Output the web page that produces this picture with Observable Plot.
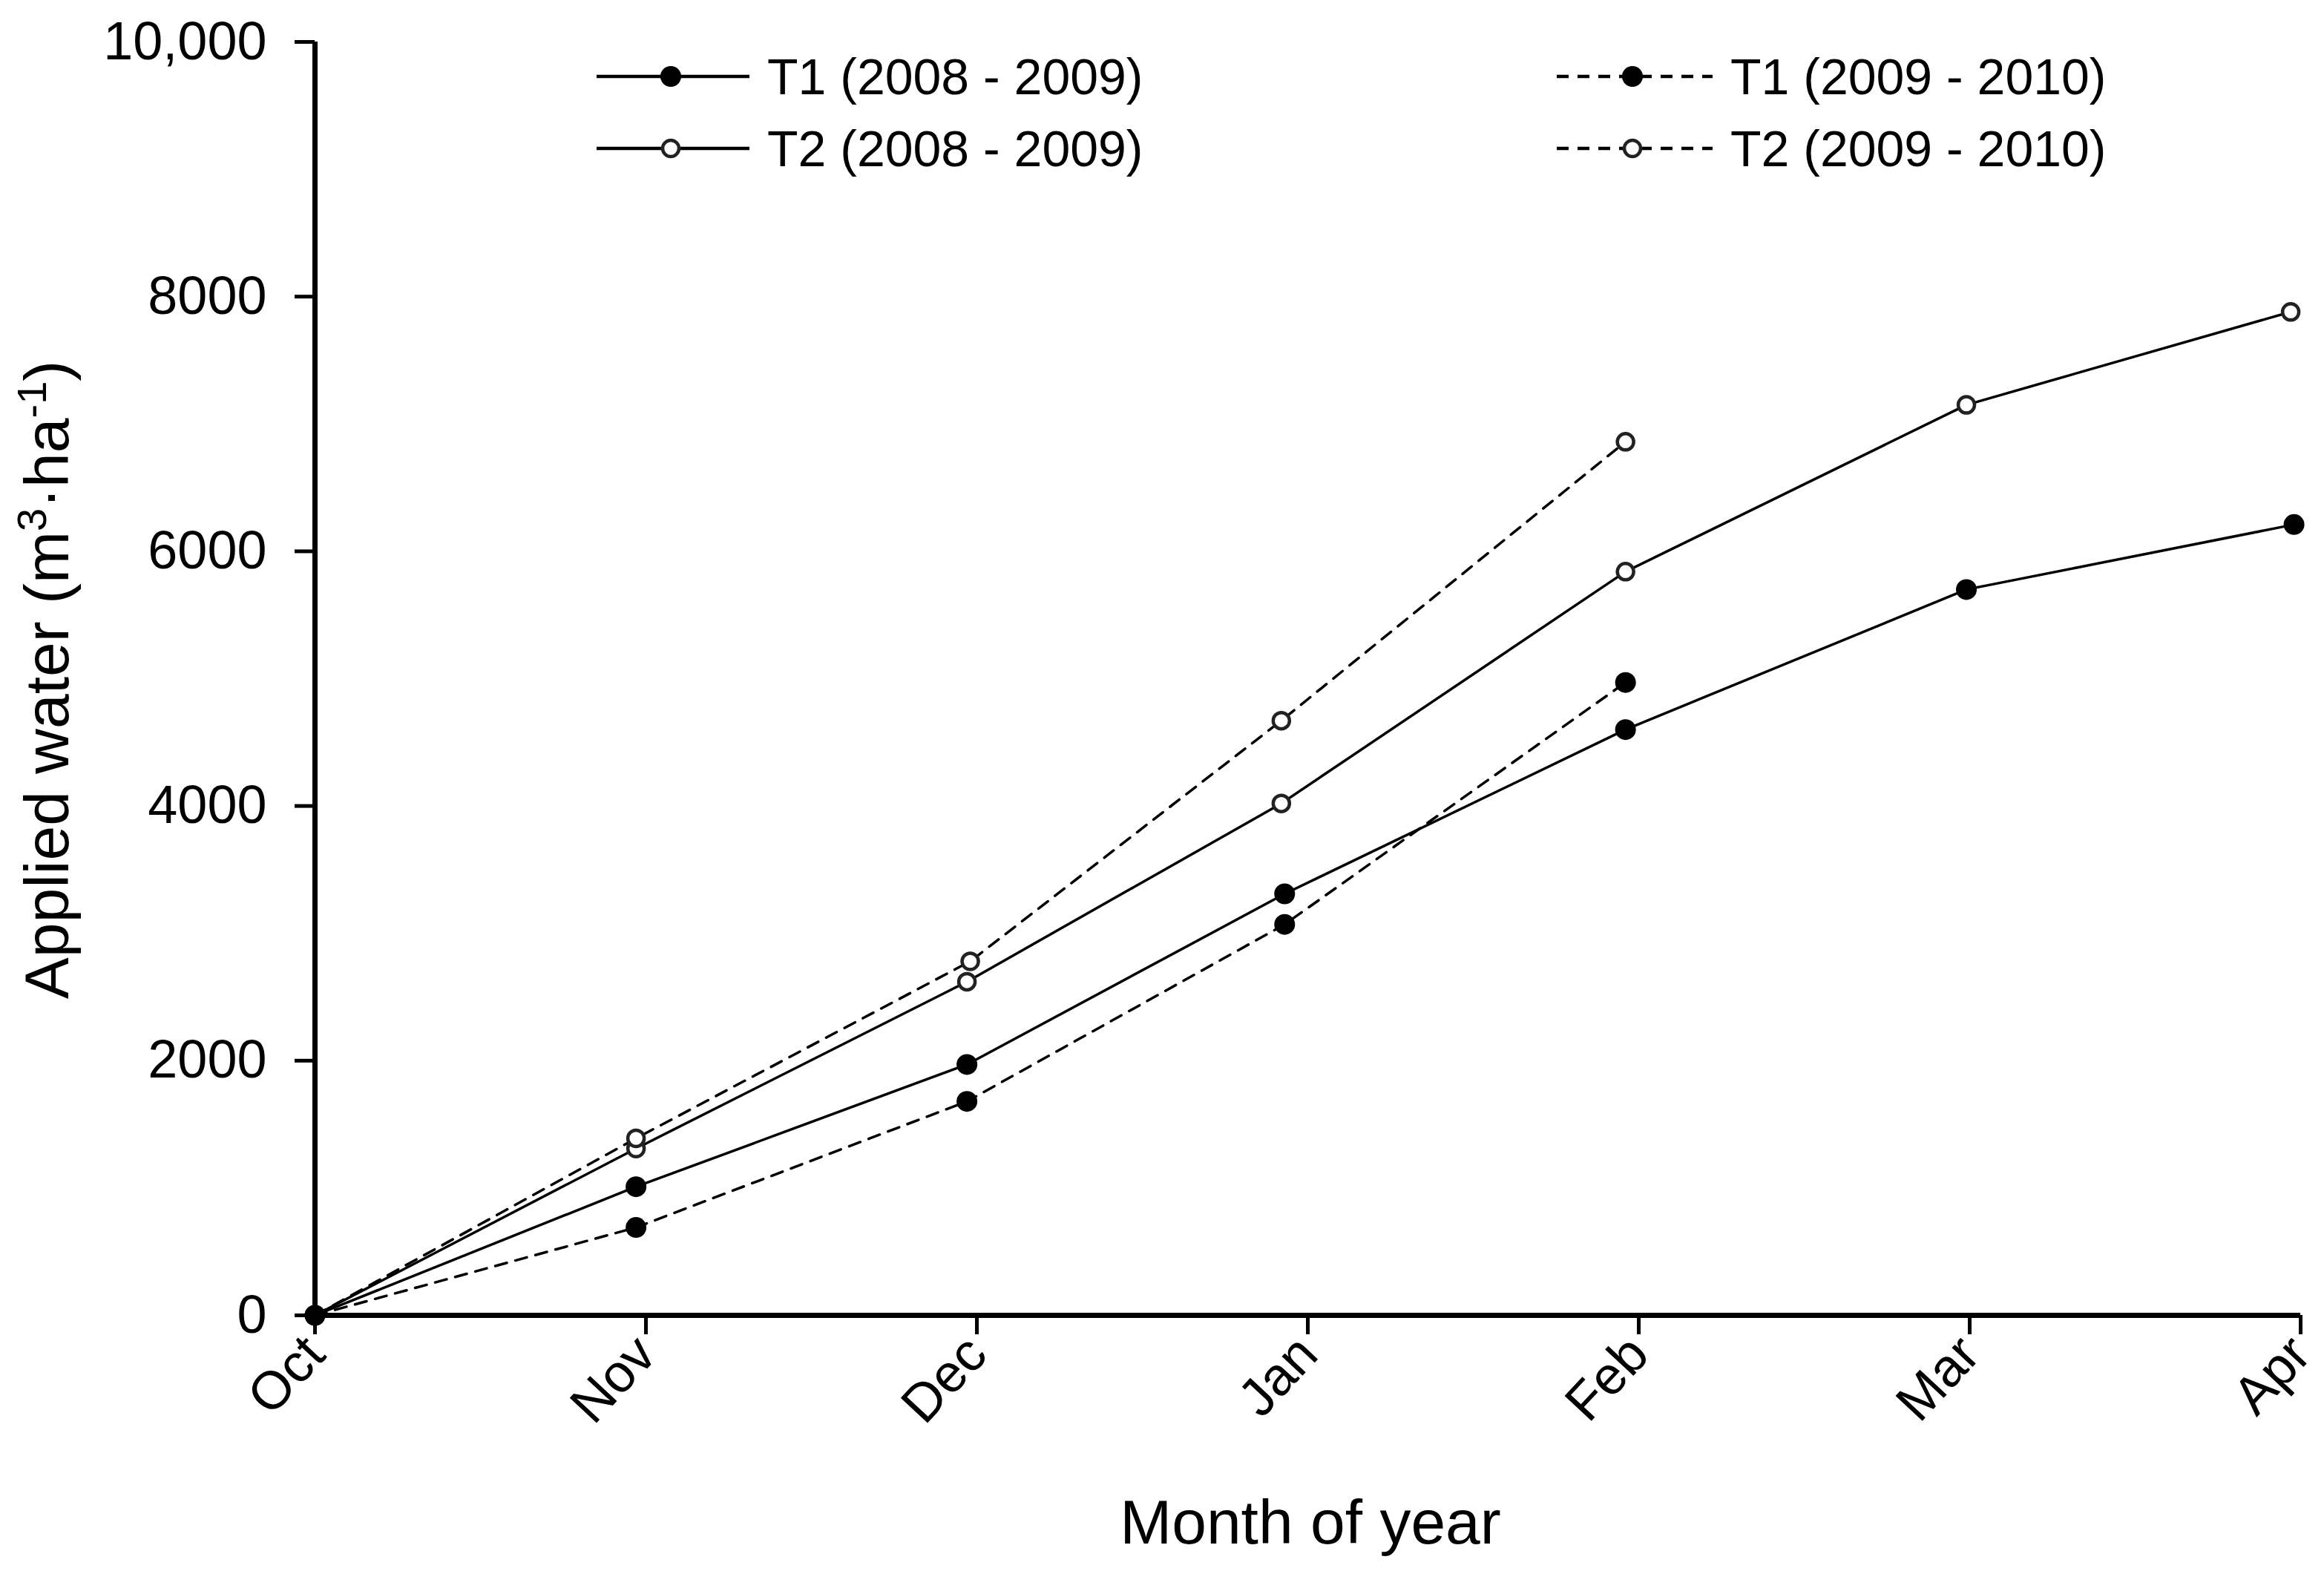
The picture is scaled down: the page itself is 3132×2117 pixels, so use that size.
<!DOCTYPE html>
<html><head><meta charset="utf-8">
<script src="https://cdn.jsdelivr.net/npm/d3@7"></script>
<script src="https://cdn.jsdelivr.net/npm/@observablehq/plot@0.6"></script>
<style>
body{margin:0;background:#fff}
#chart{width:3132px;height:2117px}
</style>
</head><body><div id="chart"></div>
<script>
// ---- data ----
const months = ["Oct","Nov","Dec","Jan","Feb","Mar","Apr"];
const monthIndex = [0,1,2,3,4,5,6];
const yTicks = [0,2000,4000,6000,8000,10000];
const yTickLabels = ["0","2000","4000","6000","8000","10,000"];
const seriesNames = ["T1 (2008 - 2009)","T2 (2008 - 2009)","T1 (2009 - 2010)","T2 (2009 - 2010)"];

// x = month position (0 = Oct), y = applied water (m3/ha)
const t1_0809_x = [0, 0.97, 1.97, 2.93, 3.96, 4.99, 5.98];
const t1_0809_y = [0, 1010, 1970, 3310, 4600, 5700, 6210];
const t2_0809_x = [0, 0.97, 1.97, 2.92, 3.96, 4.99, 5.97];
const t2_0809_y = [0, 1310, 2620, 4020, 5840, 7150, 7880];
const t1_0910_x = [0, 0.97, 1.97, 2.93, 3.96];
const t1_0910_y = [0, 690, 1680, 3070, 4970];
const t2_0910_x = [0, 0.97, 1.98, 2.92, 3.96];
const t2_0910_y = [0, 1390, 2780, 4670, 6860];

const seriesX = [t1_0809_x, t2_0809_x, t1_0910_x, t2_0910_x];
const seriesY = [t1_0809_y, t2_0809_y, t1_0910_y, t2_0910_y];

// styles per series
const styles = [
  {dash: null, filled: true},
  {dash: null, filled: false},
  {dash: "16,12", filled: true},
  {dash: "16,12", filled: false}
];

const rowsBySeries = seriesNames.map((s, i) =>
  seriesX[i].map((x, j) => ({series: s, x, y: seriesY[i][j]})));

const FONT = "'Liberation Sans', Arial, sans-serif";

const lineMarks = rowsBySeries.map((rows, i) =>
  Plot.line(rows, {x: "x", y: "y", stroke: "black", strokeWidth: 3.5,
    strokeDasharray: styles[i].dash || undefined}));
const dotMarks = rowsBySeries.map((rows, i) =>
  styles[i].filled
    ? Plot.dot(rows, {x: "x", y: "y", r: 14, fill: "black", stroke: "none"})
    : Plot.dot(rows, {x: "x", y: "y", r: 11, fill: "white", stroke: "#222", strokeWidth: 4.5}));

const plot = Plot.plot({
  width: 3132, height: 2117,
  marginLeft: 424, marginRight: 32, marginTop: 56, marginBottom: 345,
  style: {fontFamily: FONT, background: "white", overflow: "visible", color: "black"},
  x: {domain: [0, 6]},
  y: {domain: [0, 10000]},
  marks: [
    Plot.axisY({ticks: yTicks, tickFormat: d => yTickLabels[yTicks.indexOf(d)],
      tickSize: 27, tickPadding: 38, fontSize: 72, strokeWidth: 5, label: null}),
    Plot.axisX({ticks: monthIndex, tickFormat: d => months[d],
      tickSize: 26, tickPadding: 14, tickRotate: -47, fontSize: 72, strokeWidth: 5, label: null}),
    ...lineMarks,
    dotMarks[1], dotMarks[3], dotMarks[0], dotMarks[2],
    Plot.ruleX([0], {y1: 0, y2: 10000, strokeWidth: 7}),
    Plot.ruleY([0], {x1: 0, x2: 6, strokeWidth: 7})
  ]
});

const svg = d3.select(plot);

// x title
svg.append("text")
  .attr("x", 1766).attr("y", 2080)
  .attr("text-anchor", "middle")
  .attr("font-family", FONT).attr("font-size", 84).attr("fill", "black")
  .text("Month of year");

// y title with superscripts
const yt = svg.append("text")
  .attr("transform", "translate(92,916) rotate(-90)")
  .attr("text-anchor", "middle")
  .attr("font-family", FONT).attr("font-size", 84).attr("fill", "black");
yt.append("tspan").text("Applied water (m");
yt.append("tspan").attr("dy", -30).attr("font-size", 56).text("3");
yt.append("tspan").attr("dy", 30).text("\u00B7ha");
yt.append("tspan").attr("dy", -30).attr("font-size", 56).text("-1");
yt.append("tspan").attr("dy", 30).text(")");

// legend
const legendCols = [{x1: 804, x2: 1010, xm: 904, xt: 1034}, {x1: 2098, x2: 2308, xm: 2200, xt: 2332}];
const legendRows = [103, 200];
const legendOrder = [[0, 0, 0], [1, 0, 1], [2, 1, 0], [3, 1, 1]]; // series, col, row
const lg = svg.append("g").attr("text-anchor", "start");
legendOrder.forEach(([si, ci, ri]) => {
  const c = legendCols[ci], y = legendRows[ri], st = styles[si];
  lg.append("line").attr("x1", c.x1).attr("x2", c.x2).attr("y1", y).attr("y2", y)
    .attr("stroke", "black").attr("stroke-width", 4.5)
    .attr("stroke-dasharray", st.dash || null);
  if (st.filled) {
    lg.append("circle").attr("cx", c.xm).attr("cy", y).attr("r", 14).attr("fill", "black");
  } else {
    lg.append("circle").attr("cx", c.xm).attr("cy", y).attr("r", 11)
      .attr("fill", "white").attr("stroke", "#222").attr("stroke-width", 4.5);
  }
  lg.append("text").attr("x", c.xt).attr("y", y).attr("dy", "0.36em")
    .attr("text-anchor", "start")
    .attr("font-family", FONT).attr("font-size", 68).attr("fill", "black")
    .text(seriesNames[si]);
});

document.getElementById("chart").appendChild(plot);
</script>
</body></html>
